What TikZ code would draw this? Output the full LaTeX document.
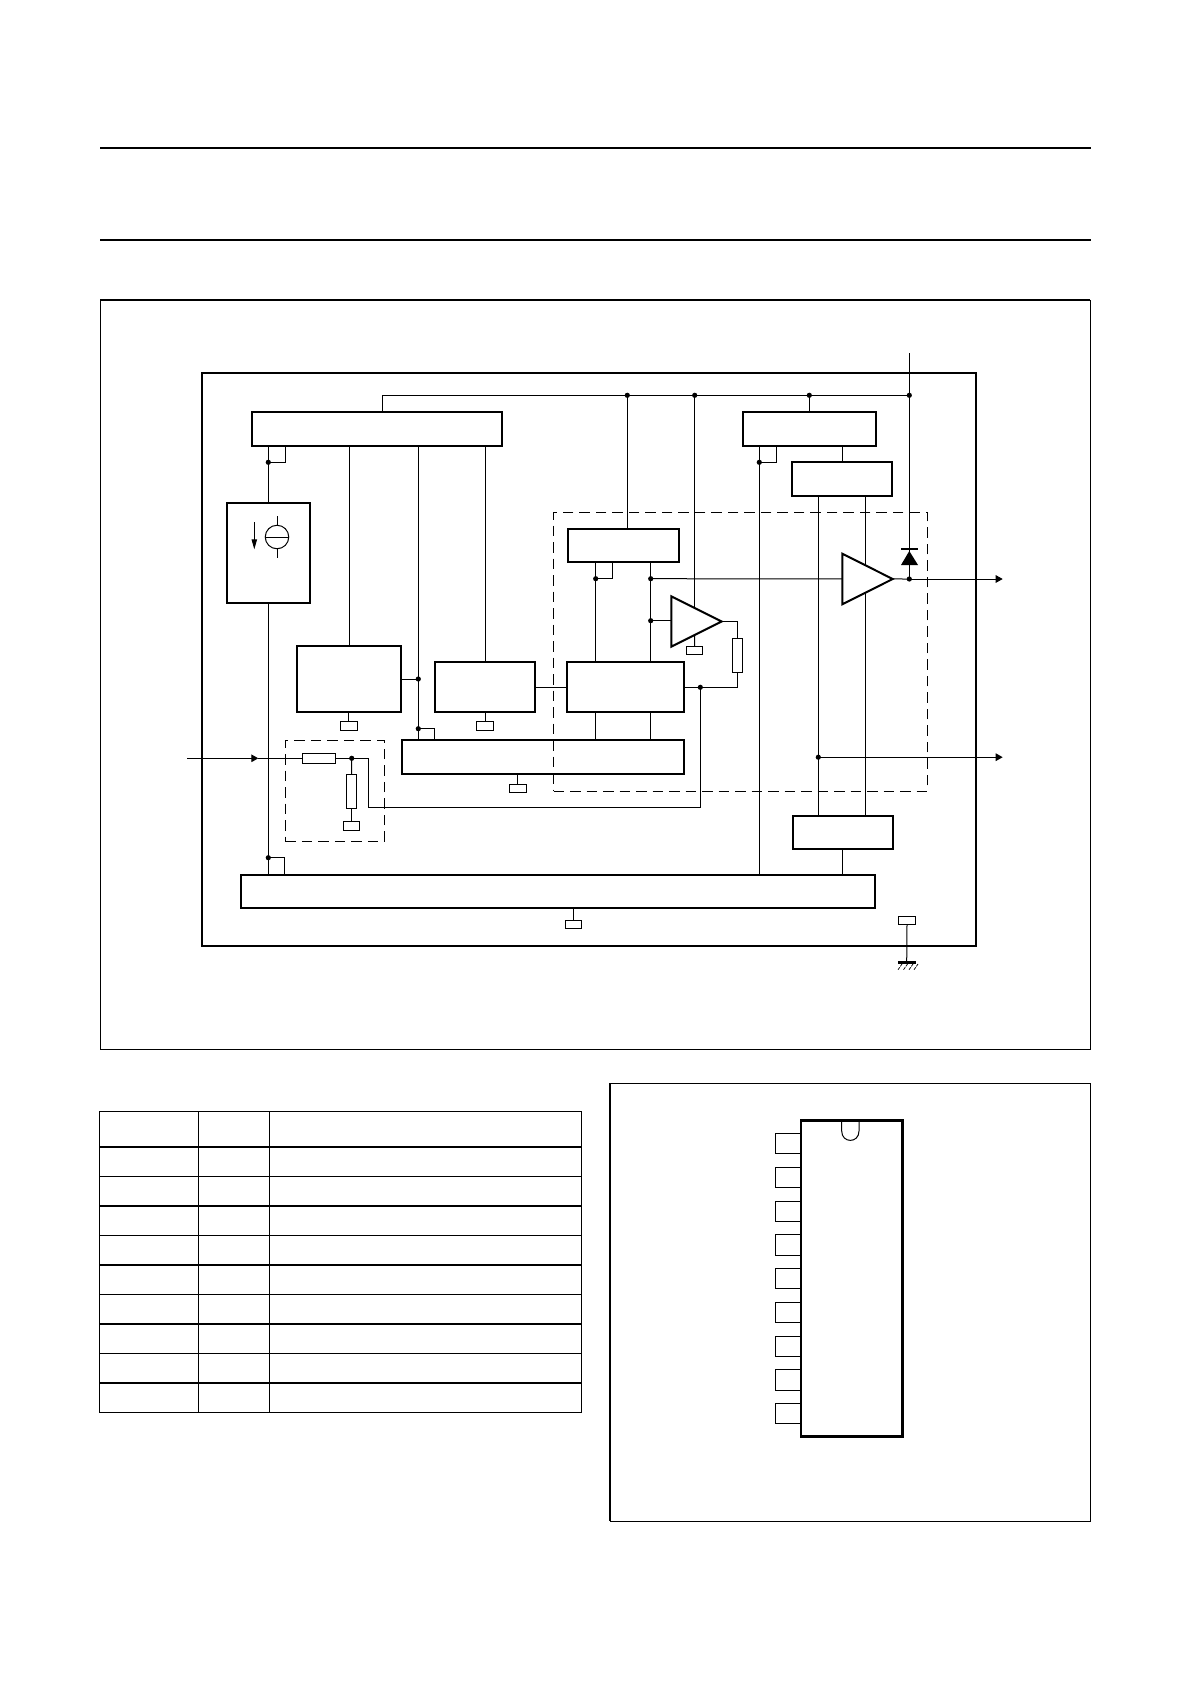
\documentclass[tikz,border=0pt]{standalone}
\usetikzlibrary{arrows.meta}
\tikzset{
  wire/.style={line width=1pt,line cap=butt},
  blk/.style={draw,line width=2pt,inner sep=0pt,outer sep=0pt,fill=none},
  icblk/.style={draw,line width=2.9pt,inner sep=0pt,outer sep=0pt,fill=none},
  thinblk/.style={draw,line width=1pt,inner sep=0pt,outer sep=0pt,fill=none},
  dashbox/.style={draw,line width=1pt,inner sep=0pt,outer sep=0pt,dash pattern=on 10.5pt off 6pt},
  jdot/.style={circle,fill=black,inner sep=0pt,outer sep=0pt,minimum size=5.2pt},
  amp/.style={draw,line width=2pt,fill=white,line join=miter},
  outarrow/.style={-{Triangle[length=7pt,width=7.6pt]}},
  rule/.style={line width=2pt},
  tblthin/.style={line width=1pt},
  tblthick/.style={line width=2pt}
}
\newcommand{\bx}[6]{%
  \pgfmathsetmacro{\bxw}{#5-#3}%
  \pgfmathsetmacro{\bxh}{#6-#4}%
  \pgfmathsetmacro{\bxcx}{(#3+#5)/2}%
  \pgfmathsetmacro{\bxcy}{(#4+#6)/2}%
  \node[#2,minimum width=\bxw pt,minimum height=\bxh pt] (#1) at (\bxcx,\bxcy) {};%
}
\begin{document}
\begin{tikzpicture}[x=1pt,y=-1pt]
\fill[white] (0,0) rectangle (1190,1684);
\useasboundingbox (0,0) rectangle (1190,1684);

% page rules
\coordinate (r1a) at (100,147.7); \coordinate (r1b) at (1091,147.7);
\coordinate (r2a) at (100,239.7); \coordinate (r2b) at (1091,239.7);
\draw[rule] (r1a) -- (r1b);
\draw[rule] (r2a) -- (r2b);

% figure frame
\bx{frameA}{thinblk}{100.4}{300}{1090.4}{1049.3}
\draw[rule] (frameA.north west) -- (frameA.north east);

% chip outline
\bx{chip}{blk}{202}{373}{976}{945.7}

% blocks
\bx{boxA}{blk}{251.7}{411.7}{502.3}{446}
\bx{boxB}{blk}{227}{503}{310}{603}
\bx{boxC}{blk}{297}{645.7}{401}{712}
\bx{boxD}{blk}{435}{662}{535.3}{712}
\bx{boxE}{blk}{566.7}{662}{684}{712}
\bx{boxF}{blk}{402}{739.7}{684}{774}
\bx{boxG}{blk}{241}{874.7}{875.3}{907.7}
\bx{boxJ}{blk}{743}{411.7}{876.3}{446}
\bx{boxK}{blk}{792.4}{462.3}{892.4}{495.7}
\bx{boxL}{blk}{793}{815.7}{892.9}{849.3}
\bx{boxM}{blk}{568}{528.7}{679}{561.7}

% dashed regions
\bx{dashA}{dashbox}{285.3}{740.3}{384.7}{841.3}
\bx{dashB}{dashbox}{553.7}{512.3}{927.3}{791.3}

% resistors
\bx{resH}{thinblk}{302.3}{753.3}{335.3}{763.3}
\bx{resV}{thinblk}{346.3}{774.3}{356.7}{808.7}
\bx{resR}{thinblk}{732.7}{638.3}{742.7}{672.3}

% small ground pads
\bx{padC}{thinblk}{340.3}{721.3}{357.3}{730.3}
\bx{padD}{thinblk}{476.3}{721.3}{493.7}{730.3}
\bx{padF}{thinblk}{509.3}{784.3}{526.3}{792.3}
\bx{padV}{thinblk}{343.3}{821.3}{359.7}{830.7}
\bx{padG}{thinblk}{565.3}{920.3}{581.7}{928.7}
\bx{padA}{thinblk}{686.3}{646.3}{702.7}{654.5}
\bx{padP}{thinblk}{898.3}{916.3}{915.7}{924.7}

% junctions
\foreach \n/\x/\y in {
  jA/268.3/462.3, jJ/759.3/462.3, jM/595.7/578.7, jN/650.7/578.7,
  jAmp/650.7/620.7, jBus1/627.3/395.3, jBus2/694.7/395.3, jBus3/809.3/395.3,
  jBus4/909.3/395.3, jOut/909.3/579, jOut2/818.3/757.2, jC/418.3/679,
  jF/418.3/728.7, jIn/351.7/758.3, jE/700.3/687.3, jG/268.3/857.7}
  {\node[jdot] (\n) at (\x,\y) {};}

% free coordinates
\coordinate (vddTop) at (909.3,353.3);
\coordinate (busL) at (382.3,395.3);
\coordinate (inL) at (187,758.3);
\coordinate (inTip) at (258.3,758.3);
\coordinate (outTip) at (1002.7,579);
\coordinate (out2Tip) at (1002.7,757.2);
\coordinate (xA1) at (285.7,462.3);
\coordinate (xJ1) at (776.7,462.3);
\coordinate (xM1) at (612.7,578.7);
\coordinate (xF1) at (434.3,728.7);
\coordinate (xG1) at (284.3,857.7);
\coordinate (v1) at (349.3,500);
\coordinate (v3) at (485.7,500);
\coordinate (vK1) at (818.3,500);
\coordinate (vK2) at (865.3,500);
\coordinate (vAmp) at (694.7,620);
\coordinate (vAmpLow) at (694.7,634);
\coordinate (loop1) at (368.7,758.3);
\coordinate (loop2) at (368.7,807.3);
\coordinate (loop3) at (700.3,807.3);
\coordinate (xR) at (737.7,687.3);
\coordinate (aOut) at (737.7,621.5);
\coordinate (gndBar) at (906.7,962.5);
\coordinate (ampIn) at (671.3,620.7);

% wires
\begin{scope}[wire]
\draw (busL |- boxA.north) -- (busL) -- (jBus4.center);
\draw (vddTop) -- (jBus4.center) -- (jOut.center);
\draw (jBus1.center) -- (jBus1 |- boxM.north);
\draw (jBus2.center) -- (vAmp);
\draw (jBus3.center) -- (jBus3 |- boxJ.north);
\draw (jA |- boxA.south) -- (jA.center) -- (boxB.north -| jA);
\draw (xA1 |- boxA.south) -- (xA1) -- (jA.center);
\draw (jA |- boxB.south) -- (jA |- boxG.north);
\draw (jG.center) -- (xG1) -- (xG1 |- boxG.north);
\draw (v1 |- boxA.south) -- (v1 |- boxC.north);
\draw (jC |- boxA.south) -- (jC |- boxF.north);
\draw (v3 |- boxA.south) -- (v3 |- boxD.north);
\draw (boxC.east |- jC) -- (jC.center);
\draw (jF.center) -- (xF1) -- (xF1 |- boxF.north);
\draw (boxD.east) -- (boxE.west);
\draw (jM |- boxM.south) -- (jM |- boxE.north);
\draw (xM1 |- boxM.south) -- (xM1) -- (jM.center);
\draw (jN |- boxM.south) -- (jN |- boxE.north);
\draw (jM |- boxE.south) -- (jM |- boxF.north);
\draw (jN |- boxE.south) -- (jN |- boxF.north);
\draw (jN.center) -- (jOut.center);
\draw (boxE.east |- jE) -- (xR) -- (resR.south);
\draw (aOut) -- (resR.north);
\draw (jE.center) -- (loop3) -- (loop2) -- (loop1) -- (jIn.center);
\draw[outarrow] (inL) -- (inTip);
\draw (inTip) -- (resH.west);
\draw (resH.east) -- (jIn.center);
\draw (jIn.center) -- (resV.north);
\draw (resV.south) -- (padV.north);
\draw (padC.north) -- (padC.north |- boxC.south);
\draw (padD.north) -- (padD.north |- boxD.south);
\draw (padF.north) -- (padF.north |- boxF.south);
\draw (padG.north) -- (padG.north |- boxG.south);
\draw (jJ |- boxJ.south) -- (jJ |- boxG.north);
\draw (xJ1 |- boxJ.south) -- (xJ1) -- (jJ.center);
\draw (boxK.north) -- (boxK.north |- boxJ.south);
\draw (vK1 |- boxK.south) -- (vK1 |- boxL.north);
\draw (vK2 |- boxK.south) -- (vK2 |- boxL.north);
\draw (boxL.south) -- (boxL.south |- boxG.north);
\draw[outarrow] (jOut.center) -- (outTip);
\draw[outarrow] (jOut2.center) -- (out2Tip);
\draw (padP.south) -- (gndBar);
\draw (jAmp.center) -- (ampIn);
\end{scope}

% amplifiers
\coordinate (amp1a) at (842.3,553.7);
\coordinate (amp1b) at (842.3,604.3);
\coordinate (amp1c) at (892.7,579);
\coordinate (amp2a) at (671.3,596.3);
\coordinate (amp2b) at (671.3,646.7);
\coordinate (amp2c) at (721.7,621.5);
\draw[amp] (amp1a) -- (amp1c) -- (amp1b) -- cycle;
\draw[amp] (amp2a) -- (amp2c) -- (amp2b) -- cycle;
\draw[wire] (amp2c) -- (aOut);
\draw[wire] (padA.north) -- (vAmpLow);

% diode
\coordinate (dA) at (909.3,551);
\coordinate (dB) at (901,565);
\coordinate (dC) at (918,565);
\coordinate (dBarL) at (901,549);
\coordinate (dBarR) at (918,549);
\draw[line width=1.5pt] (dBarL) -- (dBarR);
\fill (dA) -- (dB) -- (dC) -- cycle;

% ground
\coordinate (gL) at (898,962.7);
\coordinate (gR) at (916,962.7);
\draw[line width=2.6pt] (gL) -- (gR);
\foreach \x in {902,907.5,913,918}
  \draw[line width=0.7pt,dash pattern=on 3pt off 1pt] (\x,964) -- (\x-4.5,970.5);

% current source symbol
\node[circle,draw,line width=1pt,inner sep=0pt,outer sep=0pt,minimum size=23.5pt] (src) at (277,537) {};
\draw[wire] (src.west) -- (src.east);
\coordinate (srcT) at (277,516);
\coordinate (srcB) at (277,557.7);
\draw[wire] (srcT) -- (src.north);
\draw[wire] (src.south) -- (srcB);
\coordinate (curA) at (254.3,522);
\coordinate (curB) at (254.3,549.3);
\draw[wire,-{Triangle[length=10pt,width=5.4pt]}] (curA) -- (curB);

% pin table
\foreach \y in {1147,1205.7,1265,1323.7,1382.7}
  \draw[tblthick] (99.6,\y) -- (581.4,\y);
\foreach \y in {1176.3,1235.3,1294,1353.3}
  \draw[tblthin] (99.6,\y) -- (581.4,\y);
\draw[tblthin] (99.6,1111.5) rectangle (581.4,1412.3);
\foreach \x in {198.5,269.4}
  \draw[tblthin] (\x,1111.5) -- (\x,1412.3);

% pinning frame
\bx{frameB}{thinblk}{610}{1083.3}{1090.7}{1521.3}
\draw[line width=2pt] (frameB.north west) -- (frameB.south west);

% package
\foreach \i in {0,...,8}{
  \pgfmathsetmacro{\pa}{1133.5+33.75*\i}
  \pgfmathsetmacro{\pb}{\pa+20.4}
  \bx{pin\i}{thinblk}{775.3}{\pa}{800}{\pb}
}
\bx{ic}{icblk}{801}{1120.5}{902.5}{1436.5}
\coordinate (nA) at (841.7,1122);
\coordinate (nB) at (859,1122);
\draw[wire] (nA) -- (841.7,1131) .. controls (841.7,1143.5) and (859,1143.5) .. (859,1131) -- (nB);
\end{tikzpicture}
\end{document}
